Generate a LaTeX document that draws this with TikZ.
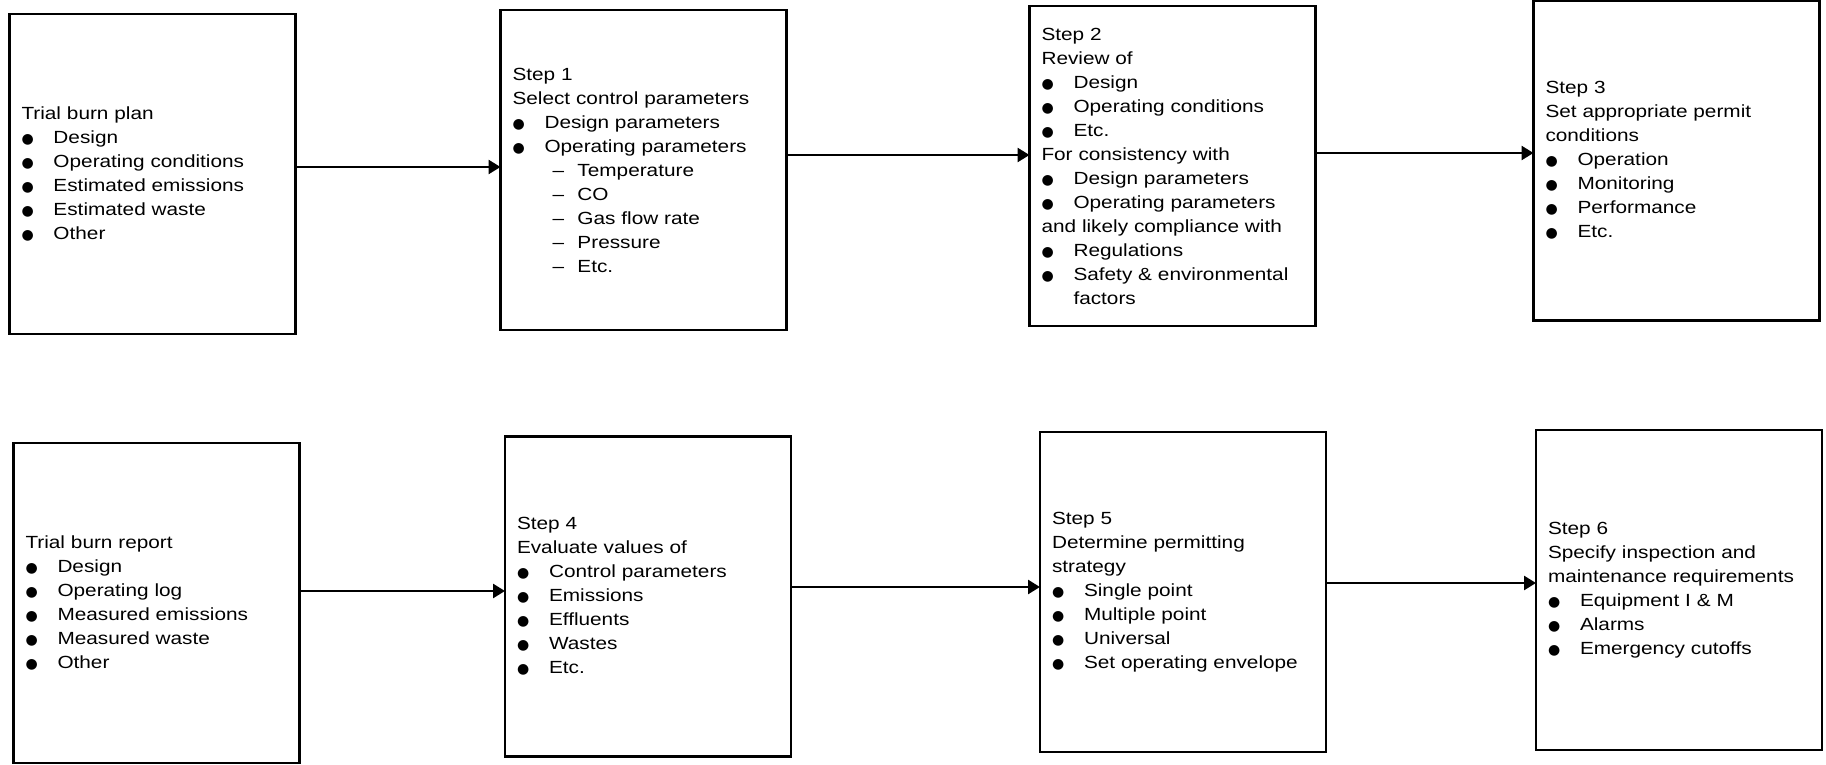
\documentclass[tikz,border=0pt]{standalone}
\usepackage{fontspec}
\setmainfont{Liberation Sans}[FakeStretch=1.18]
\newfontfamily\dotfont{DejaVu Sans}
\usepackage{tikz}
\usetikzlibrary{positioning,arrows.meta}

\newcommand{\bdot}{{\dotfont\fontsize{7pt}{7pt}\selectfont ●}}
\newcommand{\itm}[1]{\makebox[16pt][l]{\bdot}#1}
\newcommand{\dsh}[1]{\hspace*{20pt}\makebox[12.5pt][l]{--}#1}

\begin{document}
\begin{tikzpicture}[>={Triangle[length=6pt,width=7pt]},
    every node/.style={font=\fontsize{8.8pt}{12pt}\selectfont},
    stepbox/.style={draw, line width=1.3pt, minimum height=160pt, outer sep=0pt,
                    text width=131pt, inner xsep=6pt, align=left},
    link/.style={->, line width=1.3pt}]
  \useasboundingbox (0,0) rectangle (913pt,-382.5pt);

  \node[stepbox] (plan) at (76.25pt,-87pt)
        {Trial burn plan\\
         \itm{Design}\\
         \itm{Operating conditions}\\
         \itm{Estimated emissions}\\
         \itm{Estimated waste}\\
         \itm{Other}};
  \node[stepbox, right=102.5pt of plan, yshift=2pt] (step1)
        {Step 1\\
         Select control parameters\\
         \itm{Design parameters}\\
         \itm{Operating parameters}\\
         \dsh{Temperature}\\
         \dsh{CO}\\
         \dsh{Gas flow rate}\\
         \dsh{Pressure}\\
         \dsh{Etc.}};
  \node[stepbox, right=121.5pt of step1, yshift=2pt] (step2)
        {Step 2\\
         Review of\\
         \itm{Design}\\
         \itm{Operating conditions}\\
         \itm{Etc.}\\
         For consistency with\\
         \itm{Design parameters}\\
         \itm{Operating parameters}\\
         and likely compliance with\\
         \itm{Regulations}\\
         \itm{Safety \& environmental}\\
         \hspace*{16pt}factors};
  \node[stepbox, right=109pt of step2, yshift=2.75pt] (step3)
        {Step 3\\
         Set appropriate permit\\
         conditions\\
         \itm{Operation}\\
         \itm{Monitoring}\\
         \itm{Performance}\\
         \itm{Etc.}};

  \node[stepbox, below=54.5pt of plan, xshift=2pt] (report)
        {Trial burn report\\
         \itm{Design}\\
         \itm{Operating log}\\
         \itm{Measured emissions}\\
         \itm{Measured waste}\\
         \itm{Other}};
  \node[stepbox, right=102.75pt of report, yshift=3.25pt] (step4)
        {Step 4\\
         Evaluate values of\\
         \itm{Control parameters}\\
         \itm{Emissions}\\
         \itm{Effluents}\\
         \itm{Wastes}\\
         \itm{Etc.}};
  \node[stepbox, right=124.5pt of step4, yshift=2.25pt] (step5)
        {Step 5\\
         Determine permitting\\
         strategy\\
         \itm{Single point}\\
         \itm{Multiple point}\\
         \itm{Universal}\\
         \itm{Set operating envelope}};
  \node[stepbox, right=105pt of step5, yshift=1pt] (step6)
        {Step 6\\
         Specify inspection and\\
         maintenance requirements\\
         \itm{Equipment I \& M}\\
         \itm{Alarms}\\
         \itm{Emergency cutoffs}};

  \draw[link] ([yshift=3.5pt]plan.east) -- ([yshift=3.5pt]plan.east -| step1.west);
  \draw[link] ([yshift=7.5pt]step1.east) -- ([yshift=7.5pt]step1.east -| step2.west);
  \draw[link] ([yshift=6.5pt]step2.east) -- ([yshift=6.5pt]step2.east -| step3.west);
  \draw[link] ([yshift=6pt]report.east) -- ([yshift=6pt]report.east -| step4.west);
  \draw[link] ([yshift=4.75pt]step4.east) -- ([yshift=4.75pt]step4.east -| step5.west);
  \draw[link] ([yshift=4.5pt]step5.east) -- ([yshift=4.5pt]step5.east -| step6.west);
\end{tikzpicture}
\end{document}
